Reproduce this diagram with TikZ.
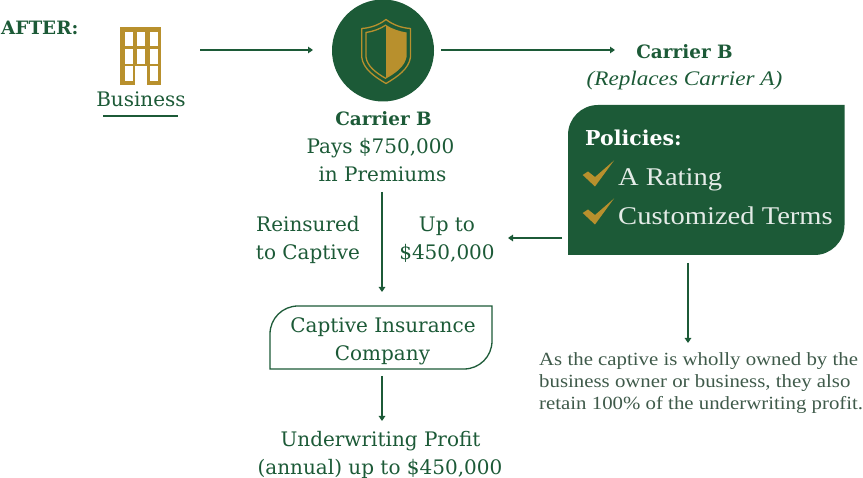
\documentclass[tikz,border=0pt]{standalone}
\usepackage{fontspec}
\setmainfont{DejaVu Serif}
\newfontfamily\lightface[FakeStretch=1.12]{Liberation Serif}
\usetikzlibrary{arrows.meta}
\definecolor{pine}{HTML}{1C5A37}
\definecolor{ochre}{HTML}{B8902D}
\definecolor{notegrey}{HTML}{3F5A4A}
\tikzset{
  flow/.style={draw=pine,line width=1.6pt,-{Triangle[length=5pt,width=6.5pt]}},
  lbl/.style={text=pine,align=center,inner sep=0pt,anchor=base,font=\fontsize{20}{24}\selectfont},
  lblbold/.style={lbl,font=\fontsize{18.4}{24}\selectfont\bfseries},
  lite/.style={inner sep=0pt,anchor=base,font=\lightface\fontsize{#1}{#1}\selectfont},
  tick/.style={fill=ochre,draw=none},
  pane/.style={fill=pine,draw=none}
}
\newcommand{\checkmarkat}[2]{%
  \fill[tick] (#1-0.3,#2+14.5) -- (#1+5,#2+11) -- (#1+12,#2+16.5) -- (#1+31,#2+0) -- (#1+12,#2+26) -- cycle;}
\begin{document}
\begin{tikzpicture}[x=1pt,y=-1pt]
\useasboundingbox (0,0) rectangle (863,478);

% Heading
\node[lblbold,anchor=base west] (after) at (1,35) {AFTER:};

% Office building
\fill[ochre] (120,27.5) rectangle (161,85);
\foreach \xa/\xb in {124.5/132.5,137/144.5,149.5/157.5}
  \foreach \ya/\yb in {32/46.5,49/64,66/81.5}
    \fill[white] (\xa,\ya) rectangle (\xb,\yb);
\fill[white] (134.7,66) rectangle (146.7,85.5);
\node[lbl] (business) at (141,106.5) {Business};
\draw[pine,line width=1.2pt] (103,116) -- (178,116);
\coordinate (bizout) at (200,50);

% Carrier B shield badge
\node[circle,fill=pine,minimum size=102pt,inner sep=0pt] (badge) at (383,50.5) {};
\fill[ochre] (386,25) .. controls (392,29) and (400,31.5) .. (406.5,32.5)
  -- (406.5,57) .. controls (405,66) and (396,73) .. (386,78.5) -- cycle;
\draw[ochre,line width=1.3pt,line join=round]
  (386,19.5) .. controls (393,25) and (402,28) .. (410.5,28.5)
  -- (410.5,57) .. controls (409,69) and (397,77) .. (386,83.5)
  .. controls (375,77) and (363,69) .. (361.7,57)
  -- (361.7,28.5) .. controls (370,28) and (379,25) .. (386,19.5) -- cycle;
\draw[ochre,line width=1.3pt]
  (386,25) .. controls (380,29) and (373,31.5) .. (366,32.5)
  -- (366,57) .. controls (367,66) and (376,73) .. (386,78.5);

% Carrier labels
\node[lblbold] (carrierb) at (684.5,58.5) {Carrier B};
\node[lite=20.7,text=pine] (replaces) at (684.5,85.5) {\itshape (Replaces Carrier A)};
\node[lblbold] (carriermid) at (383.5,125.5) {Carrier B};
\node[lbl] (pays) at (380.5,153.7) {Pays \$750,000};
\node[lbl] (prem) at (382.5,181.7) {in Premiums};

% Policies panel
\path[pane] (598,105) -- (844.5,105) -- (844.5,225)
  .. controls (844.5,241.6) and (831,255) .. (814.5,255)
  -- (568,255) -- (568,135)
  .. controls (568,118.4) and (581.4,105) .. (598,105) -- cycle;
\coordinate (panelleft) at (562,238);
\coordinate (panelbottom) at (688,263);
\node[lblbold,text=white,anchor=base west,font=\fontsize{20.5}{24}\selectfont\bfseries] (policies) at (585,146) {Policies:};
\checkmarkat{583}{160.5}
\checkmarkat{583}{198.5}
\node[lite=25.5,text=white!88!pine,anchor=base west] (rating) at (618,186) {A Rating};
\node[lite=25.5,text=white!88!pine,anchor=base west] (terms) at (618,224.5) {Customized Terms};

% Labels beside the reinsurance arrow
\node[lbl] (reins1) at (308,231.7) {Reinsured};
\node[lbl] (reins2) at (308,259.7) {to Captive};
\node[lbl] (upto1) at (447,231.7) {Up to};
\node[lbl] (upto2) at (447,259.7) {\$450,000};
\coordinate (reinstop) at (382,192);
\coordinate (uptoright) at (508,238);

% Captive box
\path[draw=pine,line width=1.3pt,fill=white] (298,306) -- (492,306) -- (492,341)
  .. controls (492,356.5) and (479.5,369) .. (464,369)
  -- (270,369) -- (270,334)
  .. controls (270,318.5) and (282.5,306) .. (298,306) -- cycle;
\coordinate (capin) at (382,292);
\coordinate (capout) at (382,376);
\node[lbl] (cap1) at (383,332.7) {Captive Insurance};
\node[lbl] (cap2) at (382.5,360.7) {Company};

% Profit
\coordinate (profit) at (382,421);
\node[lbl] (prof1) at (380.5,446.7) {Underwriting Profit};
\node[lbl] (prof2) at (380,474.5) {(annual) up to \$450,000};

% Side note
\node[lite=18.6,text=notegrey,anchor=base west] (n1) at (539,366) {As the captive is wholly owned by the};
\node[lite=18.6,text=notegrey,anchor=base west] (n2) at (539,388) {business owner or business, they also};
\node[lite=18.6,text=notegrey,anchor=base west] (n3) at (539,410) {retain 100\% of the underwriting profit.};
\coordinate (notetop) at (688,343);
\coordinate (badgeright) at (441,50);
\coordinate (carrierin) at (615,50);

% Connectors
\draw[flow] (bizout) -- (313,50);
\draw[flow] (badgeright) -- (carrierin);
\draw[flow] (reinstop) -- (capin);
\draw[flow] (panelleft) -- (uptoright);
\draw[flow] (panelbottom) -- (notetop);
\draw[flow] (capout) -- (profit);
\end{tikzpicture}
\end{document}
